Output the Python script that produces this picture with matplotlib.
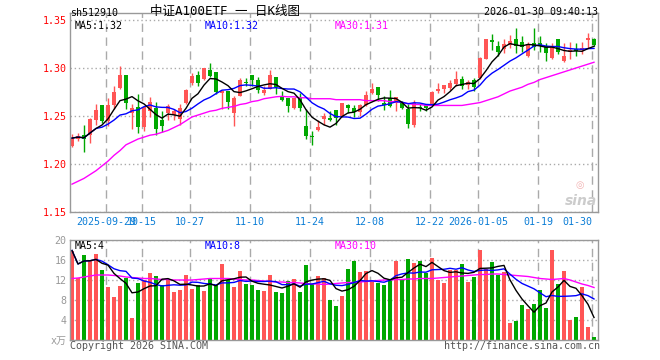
"""
Daily K-line chart for sh512910 (中证A100ETF) in the Sina finance style:
candles with MA5/MA10/MA30 on top, volume bars with their averages below.
"""
import numpy as np
import pandas as pd
import matplotlib
matplotlib.use("Agg")
import matplotlib.pyplot as plt

plt.rcParams["font.family"] = ["DejaVu Sans Mono", "Noto Sans CJK SC"]

# trading calendar (exchange holidays removed from business days)
holidays = ["2025-10-01", "2025-10-02", "2025-10-03", "2025-10-06",
            "2025-10-07", "2025-10-08", "2026-01-01", "2026-01-02"]
dates = pd.bdate_range("2025-09-19", "2026-01-30")
dates = dates[~dates.isin(pd.to_datetime(holidays))]

opens = [1.219, 1.226, 1.230, 1.230, 1.246, 1.261, 1.245, 1.261, 1.279, 1.293,
         1.253, 1.259, 1.239, 1.255, 1.258, 1.246, 1.253, 1.251, 1.247, 1.264,
         1.284, 1.293, 1.289, 1.298, 1.296, 1.274, 1.276, 1.253, 1.271, 1.285,
         1.293, 1.287, 1.274, 1.278, 1.291, 1.271, 1.269, 1.258, 1.269, 1.240,
         1.229, 1.235, 1.247, 1.248, 1.256, 1.250, 1.261, 1.258, 1.254, 1.261,
         1.274, 1.280, 1.264, 1.269, 1.264, 1.264, 1.257, 1.241, 1.259, 1.261,
         1.262, 1.276, 1.278, 1.279, 1.283, 1.289, 1.282, 1.287, 1.290, 1.309,
         1.329, 1.323, 1.320, 1.324, 1.330, 1.327, 1.312, 1.326, 1.326, 1.323,
         1.310, 1.330, 1.307, 1.317, 1.320, 1.319, 1.329, 1.330]
highs = [1.231, 1.232, 1.241, 1.248, 1.262, 1.261, 1.269, 1.281, 1.302, 1.293,
         1.262, 1.273, 1.259, 1.270, 1.265, 1.255, 1.263, 1.257, 1.262, 1.278,
         1.295, 1.297, 1.300, 1.305, 1.296, 1.276, 1.276, 1.271, 1.290, 1.290,
         1.293, 1.291, 1.281, 1.298, 1.291, 1.276, 1.269, 1.269, 1.274, 1.257,
         1.234, 1.246, 1.253, 1.255, 1.256, 1.264, 1.263, 1.261, 1.262, 1.276,
         1.284, 1.280, 1.271, 1.277, 1.270, 1.266, 1.262, 1.267, 1.262, 1.263,
         1.276, 1.284, 1.282, 1.288, 1.297, 1.292, 1.288, 1.290, 1.311, 1.330,
         1.335, 1.328, 1.330, 1.334, 1.342, 1.333, 1.327, 1.342, 1.333, 1.326,
         1.326, 1.330, 1.326, 1.327, 1.326, 1.327, 1.336, 1.331]
lows = [1.218, 1.224, 1.212, 1.222, 1.241, 1.243, 1.240, 1.257, 1.278, 1.257,
        1.236, 1.232, 1.234, 1.249, 1.230, 1.233, 1.246, 1.246, 1.241, 1.263,
        1.282, 1.281, 1.288, 1.291, 1.273, 1.257, 1.257, 1.240, 1.271, 1.281,
        1.281, 1.274, 1.272, 1.278, 1.273, 1.266, 1.254, 1.257, 1.255, 1.226,
        1.220, 1.234, 1.241, 1.245, 1.241, 1.249, 1.253, 1.249, 1.250, 1.260,
        1.273, 1.266, 1.256, 1.259, 1.255, 1.257, 1.238, 1.239, 1.255, 1.255,
        1.261, 1.274, 1.274, 1.277, 1.281, 1.278, 1.278, 1.276, 1.289, 1.309,
        1.319, 1.312, 1.316, 1.321, 1.316, 1.317, 1.311, 1.319, 1.317, 1.307,
        1.309, 1.315, 1.306, 1.309, 1.312, 1.315, 1.321, 1.323]
closes = [1.227, 1.229, 1.226, 1.247, 1.256, 1.245, 1.261, 1.275, 1.293, 1.264,
          1.258, 1.239, 1.259, 1.265, 1.236, 1.240, 1.260, 1.255, 1.258, 1.277,
          1.292, 1.284, 1.300, 1.292, 1.275, 1.276, 1.265, 1.269, 1.287, 1.284,
          1.287, 1.277, 1.277, 1.293, 1.280, 1.267, 1.260, 1.269, 1.258, 1.229,
          1.228, 1.239, 1.250, 1.246, 1.248, 1.264, 1.258, 1.254, 1.261, 1.272,
          1.278, 1.272, 1.261, 1.260, 1.270, 1.258, 1.242, 1.264, 1.258, 1.258,
          1.275, 1.278, 1.282, 1.284, 1.289, 1.281, 1.285, 1.280, 1.310, 1.330,
          1.327, 1.317, 1.325, 1.328, 1.323, 1.322, 1.325, 1.322, 1.323, 1.316,
          1.323, 1.317, 1.312, 1.319, 1.318, 1.321, 1.331, 1.324]
# MA30 of price (history before the window is not shown)
ma30 = [1.179, 1.182, 1.185, 1.189, 1.193, 1.198, 1.203, 1.209, 1.214, 1.220,
        1.223, 1.226, 1.228, 1.230, 1.231, 1.233, 1.235, 1.238, 1.241, 1.245,
        1.249, 1.251, 1.253, 1.255, 1.256, 1.258, 1.259, 1.260, 1.262, 1.263,
        1.265, 1.266, 1.268, 1.269, 1.270, 1.2705, 1.270, 1.270, 1.269, 1.269,
        1.268, 1.268, 1.268, 1.268, 1.267, 1.267, 1.267, 1.267, 1.267, 1.266,
        1.266, 1.266, 1.266, 1.265, 1.265, 1.264, 1.263, 1.262, 1.262, 1.261,
        1.261, 1.261, 1.261, 1.261, 1.261, 1.261, 1.262, 1.263, 1.264, 1.266,
        1.268, 1.270, 1.273, 1.276, 1.278, 1.280, 1.283, 1.285, 1.288, 1.290,
        1.292, 1.294, 1.296, 1.298, 1.300, 1.302, 1.304, 1.306]

# volume in 万
volumes = [17.9, 12.5, 17.0, 16.0, 17.2, 14.0, 10.7, 8.7, 10.8, 12.5,
           4.5, 11.5, 12.0, 13.5, 12.8, 11.0, 12.1, 9.7, 10.0, 13.0,
           10.2, 11.0, 9.8, 12.2, 11.0, 15.2, 12.1, 10.7, 13.8, 11.2,
           11.0, 10.0, 9.8, 13.0, 9.7, 9.5, 11.8, 12.2, 9.6, 15.0,
           11.3, 12.8, 12.5, 8.0, 6.8, 8.8, 14.2, 15.9, 13.7, 13.9,
           11.7, 11.5, 11.0, 12.1, 15.9, 12.3, 16.2, 15.5, 15.9, 13.5,
           16.5, 12.0, 11.5, 14.1, 14.1, 15.3, 11.6, 12.6, 18.0, 14.3,
           15.6, 13.1, 13.6, 3.5, 3.8, 7.0, 6.3, 7.2, 10.0, 6.5,
           18.0, 11.3, 13.8, 4.0, 4.6, 10.6, 2.7, 0.6]
vol_ma30 = [12.3, 12.4, 12.6, 12.8, 13.0, 13.0, 13.0, 12.9, 12.8, 12.6,
            12.5, 12.4, 12.3, 12.3, 12.2, 12.1, 12.1, 12.0, 12.0, 12.0,
            12.0, 12.1, 12.2, 12.3, 12.3, 12.3, 12.3, 12.2, 12.1, 12.0,
            12.0, 11.9, 11.8, 11.7, 11.6, 11.6, 11.5, 11.5, 11.4, 11.3,
            11.2, 11.2, 11.1, 11.2, 11.3, 11.4, 11.5, 11.5, 11.6, 11.7,
            11.8, 11.9, 12.0, 12.0, 12.1, 12.1, 12.2, 12.2, 12.3, 12.3,
            12.3, 12.4, 12.5, 12.6, 12.7, 12.8, 12.9, 13.0, 13.1, 13.1,
            13.2, 13.2, 13.1, 13.0, 12.9, 12.8, 12.7, 12.5, 12.3, 12.2,
            12.1, 12.2, 12.3, 12.0, 11.6, 11.2, 10.9, 10.5]

tick_dates = ["2025-09-29", "2025-10-15", "2025-10-27", "2025-11-10", "2025-11-24",
              "2025-12-08", "2025-12-22", "2026-01-05", "2026-01-19", "2026-01-30"]
tick_labels = ["2025-09-29", "10-15", "10-27", "11-10", "11-24",
               "12-08", "12-22", "2026-01-05", "01-19", "01-30"]

price_levels = [1.15, 1.20, 1.25, 1.30, 1.35]
vol_levels = [0, 4, 8, 12, 16, 20]
vol_level_labels = ["x万", "4", "8", "12", "16", "20"]

UP = "#ff5555"
DOWN = "#00a800"
GRID = "#aaaaaa"
FRAME = "#999999"

df = pd.DataFrame({"open": opens, "high": highs, "low": lows, "close": closes,
                   "volume": volumes}, index=dates)
df["ma5"] = df["close"].rolling(5, min_periods=1).mean()
df["ma10"] = df["close"].rolling(10, min_periods=1).mean()
df["vma5"] = df["volume"].rolling(5, min_periods=1).mean()
df["vma10"] = df["volume"].rolling(10, min_periods=1).mean()

x = np.arange(len(df))
up = df["close"] >= df["open"]
colors = np.where(up, UP, DOWN)
tick_x = [df.index.get_loc(pd.Timestamp(d)) - 0.33 for d in tick_dates]

W, H = 660, 360
fig = plt.figure(figsize=(6.6, 3.6), dpi=100)


def frac(px, py):
    return px / W, 1 - py / H


ax = fig.add_axes([70 / W, 1 - 212 / H, 528 / W, 199 / H])
axv = fig.add_axes([70 / W, 1 - 340 / H, 528 / W, 100 / H])

for a in (ax, axv):
    a.set_xlim(-0.333, len(df) - 0.333)
    a.set_axisbelow(True)
    for s in a.spines.values():
        s.set_color(FRAME)
        s.set_linewidth(1)
    a.set_xticks(tick_x)
    a.xaxis.grid(True, color=GRID, linestyle=(0, (6, 4)), linewidth=1)
    a.yaxis.grid(True, color=GRID, linestyle=(0, (1, 2)), linewidth=1)
    a.tick_params(length=0)

# candles
body_lo = np.minimum(df["open"], df["close"])
body_h = np.maximum((df["close"] - df["open"]).abs(), 0.0007)
ax.vlines(x, df["low"], df["high"], colors=colors, linewidth=1)
ax.bar(x, body_h, bottom=body_lo, width=0.82, color=colors, linewidth=0)
ax.plot(x, ma30, color="#ff00ff", linewidth=1)
ax.plot(x, df["ma10"], color="#0000ff", linewidth=1)
ax.plot(x, df["ma5"], color="black", linewidth=1)
ax.set_ylim(1.15, 1.3573)
ax.set_yticks(price_levels)
ax.set_yticklabels([f"{v:.2f}" for v in price_levels], color="red", fontsize=7.2)
ax.tick_params(axis="y", pad=2.5)
ax.set_xticklabels(tick_labels, color="#0b7dd6", fontsize=7.2)
ax.tick_params(axis="x", pad=3.5)
ax.get_xticklabels()[-1].set_ha("right")

# volume
axv.bar(x, df["volume"], width=0.82, color=colors, linewidth=0)
axv.plot(x, vol_ma30, color="#ff00ff", linewidth=1)
axv.plot(x, df["vma10"], color="#0000ff", linewidth=1)
axv.plot(x, df["vma5"], color="black", linewidth=1)
axv.set_ylim(0, 20)
axv.set_yticks(vol_levels)
axv.set_yticklabels(vol_level_labels, color="#999999", fontsize=7.2)
axv.tick_params(axis="y", pad=2.5)
axv.set_xticklabels([])

# legends of the moving averages
for (px, py, txt, c) in [(75, 26, f"MA5:{df['ma5'].iloc[-1]:.2f}", "black"),
                         (205, 26, f"MA10:{df['ma10'].iloc[-1]:.2f}", "#0000ff"),
                         (335, 26, f"MA30:{ma30[-1]:.2f}", "#ff00ff"),
                         (75, 246, "MA5:4", "black"),
                         (205, 246, "MA10:8", "#0000ff"),
                         (335, 246, "MA30:10", "#ff00ff")]:
    fig.text(*frac(px, py), txt, color=c, fontsize=7.2, va="center", ha="left")

# header
fig.text(*frac(70, 13), "sh512910", fontsize=7.2, va="center", ha="left")
fig.text(*frac(150, 11), "中证A100ETF 一 日K线图", fontsize=9, va="center", ha="left")
fig.text(*frac(598, 12), "2026-01-30 09:40:13", fontsize=7.2, va="center", ha="right")

# footer
fig.text(*frac(70, 346), "Copyright 2026 SINA.COM", fontsize=7.2, color="#555555",
         va="center", ha="left")
fig.text(*frac(600, 346), "http://finance.sina.com.cn", fontsize=7.2, color="#555555",
         va="center", ha="right")

# sina watermark
fig.text(*frac(580, 185), "◎", fontsize=7, color="#f2b3b3", va="center", ha="center",
         family="DejaVu Sans")
fig.text(*frac(581, 201), "sina", fontsize=10, color="#cccccc", va="center", ha="center",
         family="DejaVu Sans", fontweight="bold", fontstyle="italic")

fig.savefig("out.png", dpi=100)
